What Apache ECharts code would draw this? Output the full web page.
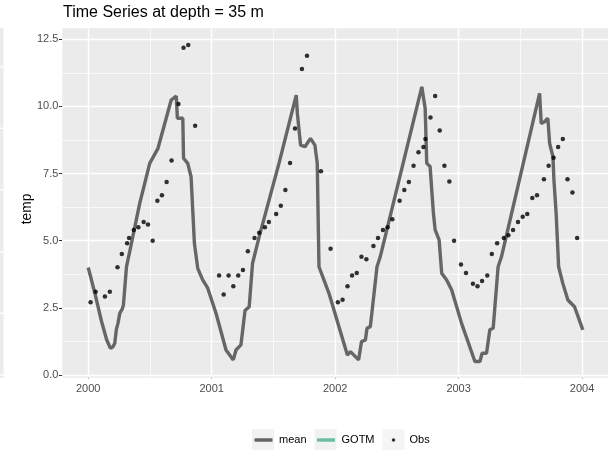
<!DOCTYPE html>
<html>
<head>
<meta charset="utf-8">
<script src="https://cdn.jsdelivr.net/npm/echarts@6/dist/echarts.min.js"></script>
<style>
html,body{margin:0;padding:0;background:#fff;}
#chart{width:608px;height:450px;}
</style>
</head>
<body>
<div id="chart"></div>
<script>
// ---- data ----
const yearTicks = [2000, 2001, 2002, 2003, 2004];
const yearMinor = [2000.5, 2001.5, 2002.5, 2003.5];
const tempTicks = [0, 2.5, 5, 7.5, 10, 12.5];
const tempMinor = [1.25, 3.75, 6.25, 8.75, 11.25];

const meanX = [2000.000, 2000.054, 2000.108, 2000.150, 2000.180, 2000.200, 2000.215, 2000.228, 2000.240, 2000.256, 2000.275, 2000.285, 2000.310, 2000.336, 2000.417, 2000.498, 2000.565, 2000.672, 2000.713, 2000.722, 2000.766, 2000.772, 2000.806, 2000.833, 2000.860, 2000.887, 2000.927, 2000.968,
  2001.035, 2001.116, 2001.175, 2001.197, 2001.237, 2001.270, 2001.304, 2001.331, 2001.385, 2001.546, 2001.685, 2001.694, 2001.720, 2001.756, 2001.800, 2001.836, 2001.855, 2001.869, 2001.950,
  2002.099, 2002.124, 2002.190, 2002.213, 2002.245, 2002.258, 2002.285, 2002.339, 2002.365, 2002.702, 2002.729, 2002.742, 2002.769, 2002.796, 2002.810, 2002.842, 2002.863, 2002.903, 2002.944,
  2003.024, 2003.132, 2003.173, 2003.190, 2003.226, 2003.253, 2003.280, 2003.320, 2003.347, 2003.656, 2003.669, 2003.696, 2003.723, 2003.737, 2003.764, 2003.772, 2003.790, 2003.810, 2003.844, 2003.885, 2003.939, 2004.006];
const meanY = [4.00, 3.04, 1.99, 1.30, 0.99, 1.05, 1.18, 1.70, 1.90, 2.30, 2.45, 2.60, 4.03, 4.59, 6.39, 7.88, 8.44, 10.24, 10.39, 9.56, 9.56, 8.07, 7.88, 7.38, 4.90, 3.97, 3.54, 3.23,
  2.30, 0.93, 0.56, 0.93, 1.12, 2.40, 2.54, 4.16, 5.15, 7.90, 10.42, 9.74, 8.56, 8.50, 8.81, 8.56, 7.88, 4.03, 3.04,
  0.74, 0.87, 0.56, 1.24, 1.30, 1.74, 1.80, 4.03, 4.40, 10.73, 9.93, 7.88, 7.76, 6.02, 5.40, 5.03, 3.79, 3.54, 3.16,
  1.92, 0.50, 0.50, 0.81, 0.81, 1.68, 1.74, 4.03, 4.40, 10.49, 9.37, 9.43, 9.56, 8.63, 8.13, 7.26, 6.02, 4.03, 3.41, 2.79, 2.54, 1.68];

const obsX = [2000.019, 2000.060, 2000.135, 2000.175, 2000.237, 2000.272, 2000.315, 2000.331, 2000.369, 2000.406, 2000.449, 2000.484, 2000.522, 2000.560, 2000.597, 2000.635, 2000.675, 2000.731, 2000.772, 2000.810, 2000.866,
  2001.060, 2001.097, 2001.137, 2001.175, 2001.215, 2001.253, 2001.293, 2001.347, 2001.385, 2001.431, 2001.463, 2001.522, 2001.560, 2001.597, 2001.635, 2001.675, 2001.731, 2001.772, 2001.885, 2001.963,
  2002.022, 2002.060, 2002.100, 2002.137, 2002.175, 2002.213, 2002.253, 2002.310, 2002.347, 2002.387, 2002.425, 2002.463, 2002.522, 2002.560, 2002.597, 2002.635, 2002.675, 2002.715, 2002.731, 2002.772, 2002.810, 2002.847, 2002.885, 2002.925, 2002.963,
  2003.019, 2003.060, 2003.116, 2003.153, 2003.190, 2003.232, 2003.269, 2003.312, 2003.366, 2003.403, 2003.441, 2003.481, 2003.519, 2003.556, 2003.597, 2003.635, 2003.691, 2003.729, 2003.769, 2003.806, 2003.844, 2003.882, 2003.922, 2003.960];
const obsY = [2.71, 3.10, 2.92, 3.10, 4.01, 4.50, 4.90, 5.10, 5.40, 5.50, 5.70, 5.60, 5.00, 6.49, 6.69, 7.19, 7.99, 10.09, 12.19, 12.29, 9.28,
  3.70, 3.00, 3.70, 3.30, 3.70, 3.91, 4.61, 5.10, 5.30, 5.50, 5.70, 5.99, 6.30, 6.89, 7.89, 9.18, 11.39, 11.89, 7.59, 4.70,
  2.71, 2.80, 3.30, 3.70, 3.80, 4.40, 4.31, 4.80, 5.10, 5.40, 5.50, 5.80, 6.49, 6.89, 7.19, 7.79, 8.29, 8.49, 8.79, 9.59, 10.39, 9.10, 7.79, 7.20, 5.00,
  4.11, 3.80, 3.40, 3.30, 3.50, 3.70, 4.50, 4.90, 5.10, 5.20, 5.40, 5.70, 5.89, 5.99, 6.59, 6.69, 7.29, 7.79, 8.09, 8.49, 8.79, 7.29, 6.79, 5.10];

const gotmX = [];
const gotmY = [];

const seriesNames = ['mean', 'GOTM', 'Obs'];

// ---- chart ----
const chart = echarts.init(document.getElementById('chart'), null, {renderer: 'canvas'});

const FONT = '"Liberation Sans", Arial, sans-serif';
const corners = 'M0,0L0.01,0L0,0.01Z M22,22L21.99,22L22,21.99Z ';
const lineIcon = 'path://' + corners + 'M2.5,9.3H20.5V12.7H2.5Z';
const dotIcon = 'path://' + corners + 'M9.2,11A1.8,1.8 0 1 0 12.8,11A1.8,1.8 0 1 0 9.2,11Z';

const gridLines = []
  .concat(yearTicks.map(v => ({xAxis: v, lineStyle: {width: 1.4}})))
  .concat(yearMinor.map(v => ({xAxis: v, lineStyle: {width: 0.7}})))
  .concat(tempTicks.map(v => ({yAxis: v, lineStyle: {width: 1.4}})))
  .concat(tempMinor.map(v => ({yAxis: v, lineStyle: {width: 0.7}})));

const legendCommon = {
  left: 252, top: 429, orient: 'horizontal', padding: 0,
  itemWidth: 22, itemHeight: 22, itemGap: 8,
  selectedMode: false
};

chart.setOption({
  animation: false,
  title: {
    text: 'Time Series at depth = 35 m',
    left: 63, top: 4.5, padding: 0,
    textStyle: {fontFamily: FONT, fontSize: 16, fontWeight: 'normal', color: '#000'}
  },
  grid: {
    left: 62.3, top: 28.3, right: -2.3, bottom: 72.3,
    show: true, backgroundColor: '#EBEBEB', borderWidth: 0
  },
  legend: [
    Object.assign({}, legendCommon, {
      data: seriesNames.map(n => ({name: n, icon: 'rect'})),
      itemStyle: {color: '#F2F2F2', borderWidth: 0},
      textStyle: {fontFamily: FONT, fontSize: 11, color: '#000'}
    }),
    Object.assign({}, legendCommon, {
      data: [{name: 'mean', icon: lineIcon}, {name: 'GOTM', icon: lineIcon}, {name: 'Obs', icon: dotIcon}],
      itemStyle: {borderWidth: 0},
      textStyle: {fontFamily: FONT, fontSize: 11, color: 'rgba(0,0,0,0)'}
    })
  ],
  xAxis: {
    type: 'value', min: 1999.79, max: 2004.21,
    axisLine: {show: false},
    splitLine: {show: false},
    axisTick: {show: true, customValues: yearTicks, length: 3.4, lineStyle: {color: '#333333', width: 1}},
    axisLabel: {customValues: yearTicks, margin: 5.5, fontFamily: FONT, fontSize: 11, color: '#4D4D4D',
      formatter: v => String(Math.round(v))}
  },
  yAxis: {
    type: 'value', min: -0.103, max: 12.91,
    name: 'temp', nameLocation: 'middle', nameRotate: 90, nameGap: 28, nameMoveOverlap: false,
    nameTextStyle: {fontFamily: FONT, fontSize: 13.75, color: '#000', padding: [0, 12, 0, 0]},
    axisLine: {show: false},
    splitLine: {show: false},
    axisTick: {show: true, customValues: tempTicks, length: 3.4, lineStyle: {color: '#333333', width: 1}},
    axisLabel: {customValues: tempTicks, margin: 4, fontFamily: FONT, fontSize: 11, color: '#4D4D4D',
      formatter: v => v.toFixed(1)}
  },
  graphic: [
    {type: 'rect', silent: true, shape: {x: 0, y: 28, width: 3.5, height: 350}, style: {fill: '#EBEBEB'}},
    {type: 'line', silent: true, shape: {x1: 0, y1: 66.7, x2: 3.5, y2: 66.7}, style: {stroke: '#fff', lineWidth: 1.4}},
    {type: 'line', silent: true, shape: {x1: 0, y1: 128.3, x2: 3.5, y2: 128.3}, style: {stroke: '#fff', lineWidth: 1.4}},
    {type: 'line', silent: true, shape: {x1: 0, y1: 190, x2: 3.5, y2: 190}, style: {stroke: '#fff', lineWidth: 1.4}},
    {type: 'line', silent: true, shape: {x1: 0, y1: 251.7, x2: 3.5, y2: 251.7}, style: {stroke: '#fff', lineWidth: 1.4}},
    {type: 'line', silent: true, shape: {x1: 0, y1: 313.3, x2: 3.5, y2: 313.3}, style: {stroke: '#fff', lineWidth: 1.4}},
    {type: 'line', silent: true, shape: {x1: 0, y1: 375, x2: 3.5, y2: 375}, style: {stroke: '#fff', lineWidth: 1.4}}
  ],
  series: [
    {
      name: 'mean', type: 'line', z: 3,
      data: meanX.map((x, i) => [x, meanY[i]]),
      showSymbol: false, symbol: 'none',
      lineStyle: {color: '#666666', width: 3.4},
      itemStyle: {color: '#666666'},
      markLine: {
        z: 1, silent: true, symbol: ['none', 'none'], label: {show: false},
        lineStyle: {color: '#FFFFFF', type: 'solid'},
        emphasis: {disabled: true},
        data: gridLines
      }
    },
    {
      name: 'GOTM', type: 'line', z: 3,
      data: gotmX.map((x, i) => [x, gotmY[i]]),
      showSymbol: false,
      lineStyle: {color: '#66C2A5', width: 3.4},
      itemStyle: {color: '#66C2A5'}
    },
    {
      name: 'Obs', type: 'scatter', z: 4,
      data: obsX.map((x, i) => [x, obsY[i]]),
      symbolSize: 4.5,
      itemStyle: {color: '#000000'}
    }
  ]
});
</script>
</body>
</html>
